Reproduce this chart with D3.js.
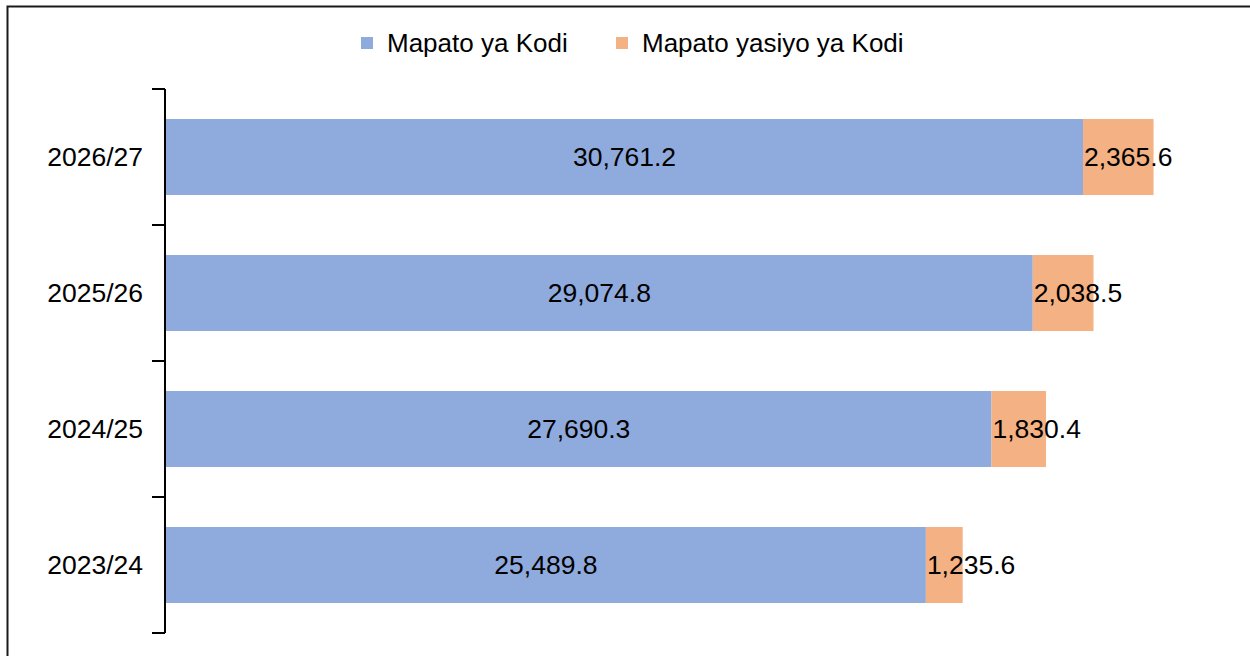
<!DOCTYPE html>
<html>
<head>
<meta charset="utf-8">
<script src="https://cdn.jsdelivr.net/npm/d3@7"></script>
<style>
  body { margin: 0; background: #fff; }
  text { font-family: 'Liberation Sans', Arial, sans-serif; fill: #000; }
</style>
</head>
<body>
<svg width="1250" height="656"></svg>
<script>
const years = ['2026/27', '2025/26', '2024/25', '2023/24'];
const kodi = [30761.2, 29074.8, 27690.3, 25489.8];
const isiyoKodi = [2365.6, 2038.5, 1830.4, 1235.6];
const seriesNames = ['Mapato ya Kodi', 'Mapato yasiyo ya Kodi'];
const colors = ['#8FAADC', '#F4B183'];

const svg = d3.select('svg');
const fmt = d3.format(',.1f');
const fontSize = '26.5px';

// frame (runs off the right and bottom of the picture)
svg.append('rect')
    .attr('x', 7.5)
    .attr('y', 6.5)
    .attr('width', 1300)
    .attr('height', 700)
    .attr('fill', 'none')
    .attr('stroke', '#1a1a1a')
    .attr('stroke-width', 2);

const data = years.map((y, i) => ({ year: y, kodi: kodi[i], isiyo: isiyoKodi[i] }));

const xScale = d3.scaleLinear()
    .domain([0, 35000])
    .range([166, 166 + 35000 * 0.029811]);

const yScale = d3.scaleBand()
    .domain(years)
    .range([89, 633])
    .paddingInner(0.441)
    .paddingOuter(0.2205);

const stack = d3.stack().keys(['kodi', 'isiyo']);
const layers = stack(data);

const g = svg.append('g');

layers.forEach((layer, li) => {
    g.selectAll(null)
        .data(layer)
        .enter()
        .append('rect')
        .attr('x', d => xScale(d[0]))
        .attr('y', d => yScale(d.data.year))
        .attr('width', d => xScale(d[1]) - xScale(d[0]))
        .attr('height', yScale.bandwidth())
        .attr('fill', colors[li]);

    // first series labels centred, second series labels sit at the segment start
    g.selectAll(null)
        .data(layer)
        .enter()
        .append('text')
        .attr('x', d => li === 0 ? (xScale(d[0]) + xScale(d[1])) / 2 : xScale(d[0]) + 1)
        .attr('y', d => yScale(d.data.year) + yScale.bandwidth() / 2)
        .attr('dy', '0.35em')
        .attr('text-anchor', li === 0 ? 'middle' : 'start')
        .style('font-size', fontSize)
        .text(d => fmt(d[1] - d[0]));
});

// category axis with ticks between bands
const axisX = 165;
const step = yScale.step();
const edges = d3.range(years.length + 1).map(i => 89 + i * step);

g.append('line')
    .attr('x1', axisX).attr('x2', axisX)
    .attr('y1', 89).attr('y2', 633)
    .attr('stroke', '#000')
    .attr('stroke-width', 2);

g.selectAll(null)
    .data(edges)
    .enter()
    .append('line')
    .attr('x1', 152).attr('x2', axisX)
    .attr('y1', d => d).attr('y2', d => d)
    .attr('stroke', '#000')
    .attr('stroke-width', 2);

g.selectAll(null)
    .data(years)
    .enter()
    .append('text')
    .attr('x', 143)
    .attr('y', d => yScale(d) + yScale.bandwidth() / 2)
    .attr('dy', '0.35em')
    .attr('text-anchor', 'end')
    .style('font-size', fontSize)
    .text(d => d);

// legend
const legendX = [361, 616];
const legend = svg.append('g');
seriesNames.forEach((name, i) => {
    legend.append('rect')
        .attr('x', legendX[i])
        .attr('y', 37)
        .attr('width', 12)
        .attr('height', 12)
        .attr('fill', colors[i]);
    legend.append('text')
        .attr('x', legendX[i] + 26)
        .attr('y', 43)
        .attr('dy', '0.35em')
        .style('font-size', '26px')
        .text(name);
});
</script>
</body>
</html>
